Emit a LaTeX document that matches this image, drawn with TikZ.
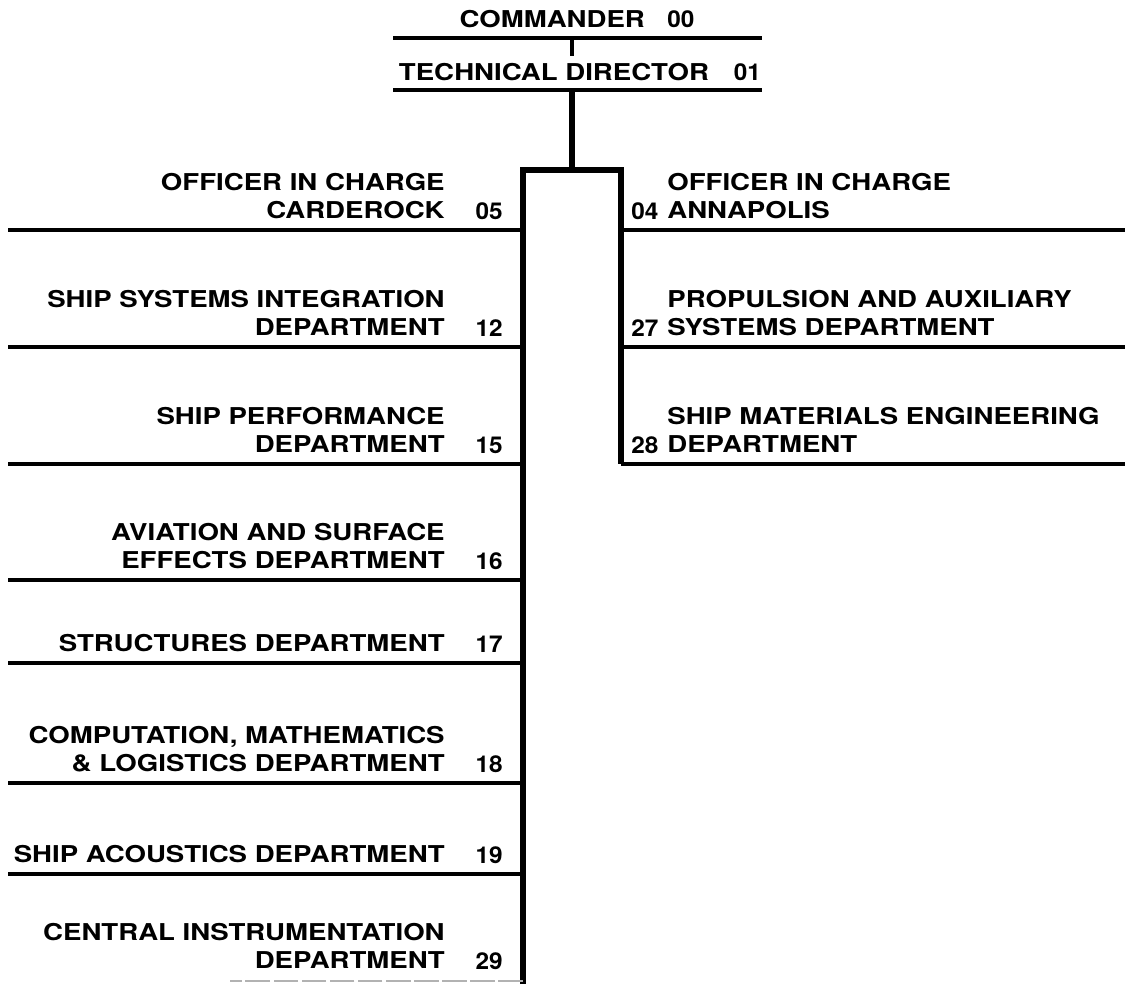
\documentclass[tikz,border=0pt]{standalone}
\usepackage{fontspec}
\setmainfont{TeX Gyre Heros}[FakeStretch=1.19]
\newfontfamily\codefont{TeX Gyre Heros}[FakeStretch=1.05]
\usetikzlibrary{positioning}

\tikzset{
  rule/.style={line width=1.9pt},
  spine/.style={line width=3.2pt, line join=miter},
  unit/.style={inner sep=0pt, text depth=0pt, font=\bfseries\fontsize{13.2}{16}\selectfont},
  unitl/.style={unit, anchor=south east, align=right},
  unitr/.style={unit, anchor=south west, align=left},
  code/.style={inner sep=0pt, font=\codefont\bfseries\fontsize{13.2}{16}\selectfont}
}

\begin{document}
\begin{tikzpicture}[x=0.02cm, y=-0.02cm]
\useasboundingbox (0,0) rectangle (1125,984);

% top of the chain
\node[unit, anchor=base] (cmd) at (577,27) {COMMANDER\hspace{0.45cm}{\codefont 00}};
\node[unit, anchor=base] (tdir) at (580,80) {TECHNICAL DIRECTOR\hspace{0.5cm}{\codefont 01}};
\coordinate (cmdl) at (393,38);  \coordinate (cmdr) at (762,38);
\coordinate (tdl) at (393,90);   \coordinate (tdr) at (762,90);
\draw[rule] (cmdl) -- (cmdr);
\draw[rule] (tdl) -- (tdr);
\draw[line width=2.3pt] (572,38) -- (572,56);

% spine
\coordinate (top) at (572,170);
\coordinate (bl) at (523,984);
\coordinate (br) at (621,464);
\draw[spine] (572,90) -- (top);
\draw[spine] (bl) |- (top) -| (br);

% left side
\node[unitl] (u05) at (445,219) {OFFICER IN CHARGE\\CARDEROCK};
\node[code, anchor=base east] (n05) at (503,219) {05};
\draw[rule] (523,230) -- (8,230);

\node[unitl] (u12) at (445,336) {SHIP SYSTEMS INTEGRATION\\DEPARTMENT};
\node[code, anchor=base east] (n12) at (503,336) {12};
\draw[rule] (523,347) -- (8,347);

\node[unitl] (u15) at (445,453) {SHIP PERFORMANCE\\DEPARTMENT};
\node[code, anchor=base east] (n15) at (503,453) {15};
\draw[rule] (523,464) -- (8,464);

\node[unitl] (u16) at (445,569) {AVIATION AND SURFACE\\EFFECTS DEPARTMENT};
\node[code, anchor=base east] (n16) at (503,569) {16};
\draw[rule] (523,580) -- (8,580);

\node[unitl] (u17) at (445,652) {STRUCTURES DEPARTMENT};
\node[code, anchor=base east] (n17) at (503,652) {17};
\draw[rule] (523,663) -- (8,663);

\node[unitl] (u18) at (445,772) {COMPUTATION, MATHEMATICS\\\& LOGISTICS DEPARTMENT};
\node[code, anchor=base east] (n18) at (503,772) {18};
\draw[rule] (523,783) -- (8,783);

\node[unitl] (u19) at (445,863) {SHIP ACOUSTICS DEPARTMENT};
\node[code, anchor=base east] (n19) at (503,863) {19};
\draw[rule] (523,874) -- (8,874);

\node[unitl] (u29) at (445,969) {CENTRAL INSTRUMENTATION\\DEPARTMENT};
\node[code, anchor=base east] (n29) at (503,969) {29};
\draw[gray!60, line width=0.6pt, dash pattern=on 14pt off 2pt] (523,981) -- (230,981);

% right side
\node[code, anchor=base west] (n04) at (631,219) {04};
\node[unitr] (u04) at (667,219) {OFFICER IN CHARGE\\ANNAPOLIS};
\draw[rule] (621,230) -- (1125,230);

\node[code, anchor=base west] (n27) at (631,336) {27};
\node[unitr] (u27) at (667,336) {PROPULSION AND AUXILIARY\\SYSTEMS DEPARTMENT};
\draw[rule] (621,347) -- (1125,347);

\node[code, anchor=base west] (n28) at (631,453) {28};
\node[unitr] (u28) at (667,453) {SHIP MATERIALS ENGINEERING\\DEPARTMENT};
\draw[rule] (621,464) -- (1125,464);
\end{tikzpicture}
\end{document}
